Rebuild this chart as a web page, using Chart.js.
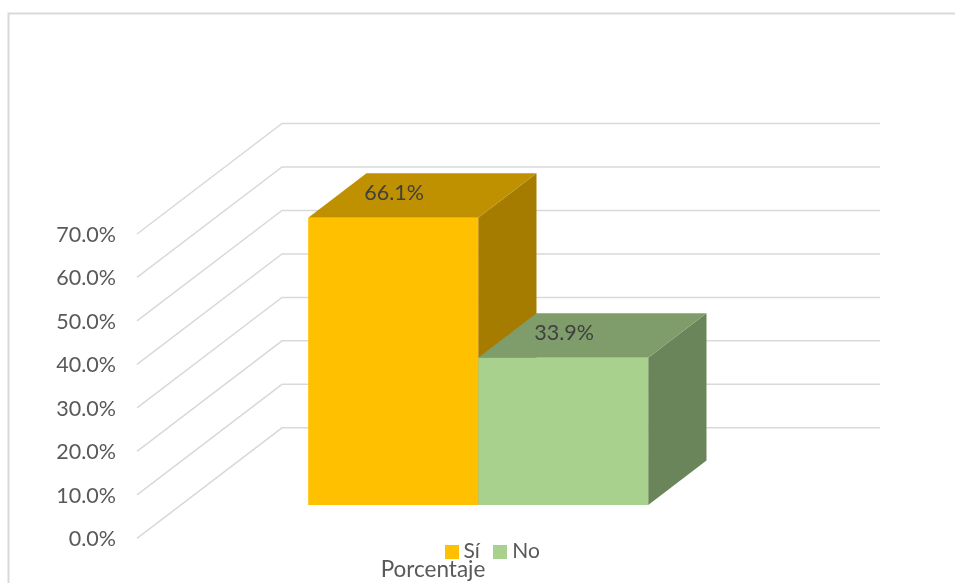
<!DOCTYPE html>
<html><head><meta charset="utf-8">
<style>html,body{margin:0;padding:0;background:#fff}canvas{display:block}</style>
<script src="https://cdn.jsdelivr.net/npm/chart.js@4"></script>
</head><body>
<canvas id="c" width="955" height="583"></canvas>
<script>
const categories = ['Porcentaje'];
const seriesNames = ['Sí', 'No'];
const siValues = [66.1];
const noValues = [33.9];
const frontColors = ['#FFC000', '#A9D18E'];
const topColors = ['#BF9000', '#7F9D6B'];
const sideColors = ['#A67C00', '#6B855A'];
const FONT = 'Lato';
const FS_TICK = 21.5, FS_LEGEND = 21, FS_CAT = 22.5;
const DEPTH = {x: 145, y: -110.5};
const BAR_FRONT_X = 0.291, BAR_FRONT_Y = 0.3014, BAR_DEPTH = 0.402;
const WALL_RIGHT = 880;

function swatch(color) {
  const s = document.createElement('canvas');
  s.width = 14; s.height = 14;
  const g = s.getContext('2d');
  g.fillStyle = color; g.fillRect(0, 0, 14, 14);
  return s;
}
const swatches = frontColors.map(swatch);

function poly(ctx, pts, fill) {
  ctx.beginPath();
  pts.forEach((p, i) => i ? ctx.lineTo(p[0], p[1]) : ctx.moveTo(p[0], p[1]));
  ctx.closePath();
  ctx.fillStyle = fill;
  ctx.fill();
}

const bar3d = {
  id: 'bar3d',
  beforeLayout(chart) {
    const l = chart.legend;
    if (l && !l._wrapped) {
      const fit = l.fit;
      l.fit = function () { fit.call(this); this.height = 0; };
      l._wrapped = true;
    }
  },
  afterLayout(chart) {
    const l = chart.legend;
    if (!l) return;
    l.left = 17.5; l.right = 955 + 17.5;
    l.top = 541 - l.options.labels.padding;
    l.bottom = 583;
  },
  beforeDraw(chart) {
    const ctx = chart.ctx;
    ctx.save();
    ctx.strokeStyle = '#D9D9D9';
    ctx.lineWidth = 2;
    ctx.beginPath();
    ctx.moveTo(8.5, 583); ctx.lineTo(8.5, 13.5); ctx.lineTo(955, 13.5);
    ctx.stroke();
    ctx.restore();
  },
  beforeDatasetsDraw(chart) {
    const ctx = chart.ctx, y = chart.scales.y, area = chart.chartArea;
    ctx.save();
    ctx.strokeStyle = '#D9D9D9';
    ctx.lineWidth = 1.5;
    y.ticks.forEach(t => {
      const py = y.getPixelForValue(t.value);
      ctx.beginPath();
      ctx.moveTo(area.left, py);
      ctx.lineTo(area.left + DEPTH.x, py + DEPTH.y);
      ctx.lineTo(WALL_RIGHT, py + DEPTH.y);
      ctx.stroke();
    });
    const fx = DEPTH.x * BAR_FRONT_X, fy = DEPTH.y * BAR_FRONT_Y;
    const dx = DEPTH.x * BAR_DEPTH, dy = DEPTH.y * BAR_DEPTH;
    chart.data.datasets.forEach((ds, i) => {
      chart.getDatasetMeta(i).data.forEach(bar => {
        const p = bar.getProps(['x', 'y', 'base', 'width']);
        const L = p.x - p.width / 2 + fx, R = p.x + p.width / 2 + fx;
        const T = p.y + fy, B = p.base + fy;
        poly(ctx, [[R, T], [R + dx, T + dy], [R + dx, B + dy], [R, B]], sideColors[i]);
        poly(ctx, [[L, T], [R, T], [R + dx, T + dy], [L + dx, T + dy]], topColors[i]);
      });
    });
    ctx.restore();
    ctx.save();
    ctx.translate(fx, fy);
  },
  afterDatasetsDraw(chart) {
    const ctx = chart.ctx;
    ctx.restore();
    const fx = DEPTH.x * BAR_FRONT_X, fy = DEPTH.y * BAR_FRONT_Y;
    ctx.save();
    ctx.font = FS_TICK + 'px ' + FONT;
    ctx.fillStyle = '#404040';
    ctx.textAlign = 'center';
    ctx.textBaseline = 'middle';
    chart.data.datasets.forEach((ds, i) => {
      chart.getDatasetMeta(i).data.forEach((bar, j) => {
        const p = bar.getProps(['x', 'y']);
        ctx.fillText(ds.data[j].toFixed(1) + '%', p.x + fx + 1, p.y + fy - 25);
      });
    });
    ctx.restore();
  }
};

new Chart(document.getElementById('c'), {
  type: 'bar',
  data: {
    labels: categories,
    datasets: [
      {label: seriesNames[0], data: siValues, backgroundColor: frontColors[0]},
      {label: seriesNames[1], data: noValues, backgroundColor: frontColors[1]}
    ]
  },
  plugins: [bar3d],
  options: {
    responsive: false,
    animation: false,
    layout: {padding: {top: 234, right: 220, left: 0, bottom: 0}},
    datasets: {bar: {categoryPercentage: 0.5686, barPercentage: 1, clip: false}},
    plugins: {
      tooltip: {enabled: false},
      legend: {
        position: 'bottom',
        labels: {
          color: '#595959',
          font: {family: FONT, size: FS_LEGEND},
          usePointStyle: true,
          boxWidth: 3, boxHeight: 14,
          padding: 19,
          generateLabels(chart) {
            return Chart.defaults.plugins.legend.labels.generateLabels(chart).map((it, i) => {
              it.pointStyle = swatches[i];
              return it;
            });
          }
        }
      }
    },
    scales: {
      x: {
        grid: {display: false},
        border: {display: false},
        afterFit(s) { s.height = 583 - 538.3; },
        ticks: {color: '#595959', font: {family: FONT, size: FS_CAT}, padding: 10, labelOffset: -3}
      },
      y: {
        min: 0, max: 70,
        grid: {display: false, drawTicks: false},
        border: {display: false},
        afterFit(s) { s.width = 137; },
        ticks: {
          stepSize: 10,
          color: '#595959',
          font: {family: FONT, size: FS_TICK},
          padding: 21,
          labelOffset: 1,
          callback: v => v.toFixed(1) + '%'
        }
      }
    }
  }
});
</script>
</body></html>
